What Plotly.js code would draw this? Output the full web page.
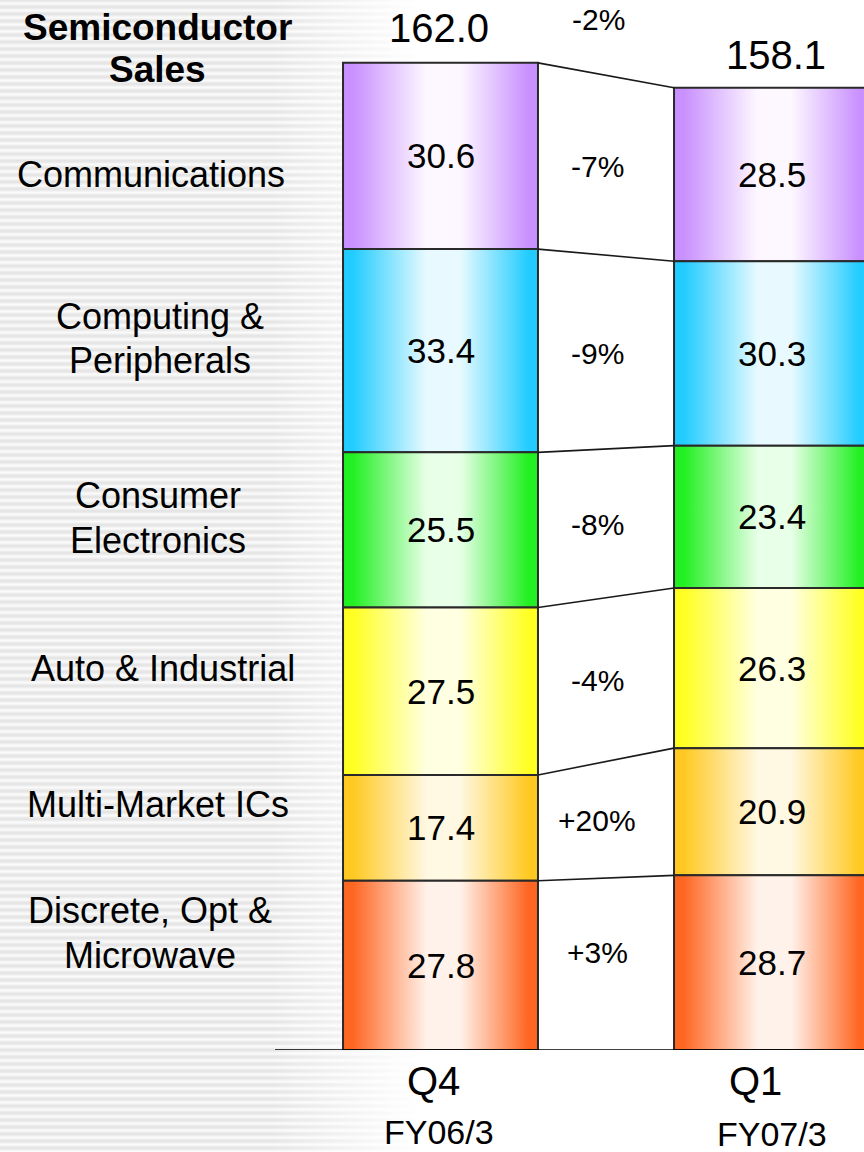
<!DOCTYPE html>
<html><head><meta charset="utf-8">
<script src="https://cdn.plot.ly/plotly-3.0.1.min.js"></script>
<style>
html,body{margin:0;padding:0;background:#fff;}
#wrap{position:relative;width:864px;height:1152px;overflow:hidden;background:#fff;}
#bg{position:absolute;left:0;top:0;width:864px;height:1152px;
 background:repeating-linear-gradient(to bottom,#e2e2e2 0px,#fbfbfb 3.5px,#e2e2e2 7px);
 -webkit-mask-image:linear-gradient(to right,#000 0px,#000 270px,rgba(0,0,0,0) 420px);
 mask-image:linear-gradient(to right,#000 0px,#000 270px,rgba(0,0,0,0) 420px);}
#chart{position:absolute;left:0;top:0;width:864px;height:1152px;}
</style></head><body><div id="wrap"><div id="bg"></div><div id="chart"></div></div>
<script>
// ---- data ----
const title = "Semiconductor<br>Sales";
const categories = ["Communications","Computing &<br>Peripherals","Consumer<br>Electronics","Auto & Industrial","Multi-Market ICs","Discrete, Opt &<br>Microwave"];
const periods = ["Q4","Q1"];
const fiscalYears = ["FY06/3","FY07/3"];
const q4Values = [30.6,33.4,25.5,27.5,17.4,27.8];
const q1Values = [28.5,30.3,23.4,26.3,20.9,28.7];
const totals = [162.0,158.1];
const changes = ["-7%","-9%","-8%","-4%","+20%","+3%"];
const totalChange = "-2%";

// ---- styles ----
const edgeColors = ["#c990ff","#22ccff","#22f022","#ffff22","#ffc922","#ff6622"];
const centerColors = ["#fdf8ff","#e8faff","#e8ffe8","#ffffe2","#fff8e2","#fff2ea"];
const FONT = "Liberation Sans, Arial, sans-serif";
const PXPERUNIT = 6.086;
const BARW = 0.589;
// left label line centres in px (x, [y per line])
const labelPos = [[151,[175]],[160,[316,360]],[158,[495,540]],[163,[668]],[158,[805]],[150,[910,955]]];
const titlePos = [157,[28,70]];

const series = [q4Values, q1Values];
const traces = [];
const annotations = [];
const bounds = series.map(vals => {
  const bot = new Array(vals.length), top = new Array(vals.length);
  let acc = 0;
  for (let i = vals.length - 1; i >= 0; i--) { bot[i] = acc; acc += vals[i]; top[i] = acc; }
  return {bot, top};
});

series.forEach((vals, b) => {
  const xc = b;
  vals.forEach((v, i) => {
    const y0 = bounds[b].bot[i], y1 = bounds[b].top[i];
    const e = edgeColors[i], c = centerColors[i];
    traces.push({
      type:'scatter', mode:'lines', hoverinfo:'skip', showlegend:false,
      x:[xc-BARW/2, xc+BARW/2, xc+BARW/2, xc-BARW/2, xc-BARW/2],
      y:[y0, y0, y1, y1, y0],
      fill:'toself',
      fillgradient:{type:'horizontal', colorscale:[[0,e],[0.05,e],[0.43,c],[0.6,c],[0.95,e],[1,e]]},
      line:{color:'#2a2a2a', width:2}
    });
    annotations.push({x:xc, y:(y0+y1)/2, xref:'x', yref:'y', text:v.toFixed(1), showarrow:false,
      font:{family:FONT, size:35, color:'#000'}, xanchor:'center', yanchor:'middle'});
  });
});

// connectors
const cx = [], cy = [];
categories.forEach((c, i) => {
  cx.push(BARW/2, 1-BARW/2, null);
  cy.push(bounds[0].top[i], bounds[1].top[i], null);
});
traces.push({type:'scatter', mode:'lines', x:cx, y:cy, hoverinfo:'skip', showlegend:false,
  line:{color:'#1a1a1a', width:1.6}});

// change labels
changes.forEach((t, i) => {
  const m = ((bounds[0].bot[i]+bounds[0].top[i])/2 + (bounds[1].bot[i]+bounds[1].top[i])/2)/2;
  annotations.push({x:0.5, y:m, xref:'x', yref:'y', text:t, showarrow:false, xshift:-9,
    yshift: i === changes.length-1 ? 12 : -1,
    font:{family:FONT, size:30, color:'#000'}, xanchor:'center', yanchor:'middle'});
});
annotations.push({x:0.5, y:(totals[0]+totals[1])/2, xref:'x', yref:'y', text:totalChange, showarrow:false,
  xshift:-8, yshift:56, font:{family:FONT, size:30, color:'#000'}, xanchor:'center', yanchor:'middle'});

// totals
totals.forEach((t, b) => {
  annotations.push({x:b, y:t, xref:'x', yref:'y', text:t.toFixed(1), showarrow:false,
    xshift: b===0 ? -2 : 4, yshift: b===0 ? 36 : 33,
    font:{family:FONT, size:40, color:'#000'}, xanchor:'center', yanchor:'middle'});
});

// period labels
periods.forEach((p, b) => {
  annotations.push({x:b, y:0, xref:'x', yref:'y', text:p, showarrow:false, xshift: b===0 ? -7 : -16, yshift:-31,
    font:{family:FONT, size:40, color:'#000'}, xanchor:'center', yanchor:'middle'});
  annotations.push({x:b, y:0, xref:'x', yref:'y', text:fiscalYears[b], showarrow:false, xshift: b===0 ? -2 : 0, yshift: b===0 ? -82 : -84,
    font:{family:FONT, size:34, color:'#000'}, xanchor:'center', yanchor:'middle'});
});

// left labels
const PH = 1050;
function addLines(text, pos, bold) {
  const lines = text.split('<br>');
  lines.forEach((ln, k) => {
    annotations.push({x:pos[0]/864, y:(PH-pos[1][k])/PH, xref:'paper', yref:'paper',
      text: bold ? '<b>'+ln+'</b>' : ln, showarrow:false,
      font:{family:FONT, size: bold ? 37 : 36, color:'#000'}, xanchor:'center', yanchor:'middle'});
  });
}
addLines(title, titlePos, true);
categories.forEach((c, i) => addLines(c, labelPos[i], false));

const x0 = -440.5/331;
const layout = {
  width:864, height:1152,
  margin:{l:0, r:0, t:0, b:102, pad:0},
  paper_bgcolor:'rgba(0,0,0,0)', plot_bgcolor:'rgba(0,0,0,0)',
  showlegend:false,
  xaxis:{range:[x0, x0+864/331], visible:false, fixedrange:true},
  yaxis:{range:[0, PH/PXPERUNIT], visible:false, fixedrange:true},
  shapes:[{type:'line', xref:'x', yref:'y', x0:(275-440.5)/331, x1:x0+864/331, y0:0, y1:0,
    line:{color:'#000', width:1.6}}],
  annotations: annotations
};
Plotly.newPlot('chart', traces, layout, {staticPlot:true, displayModeBar:false});
</script></body></html>
